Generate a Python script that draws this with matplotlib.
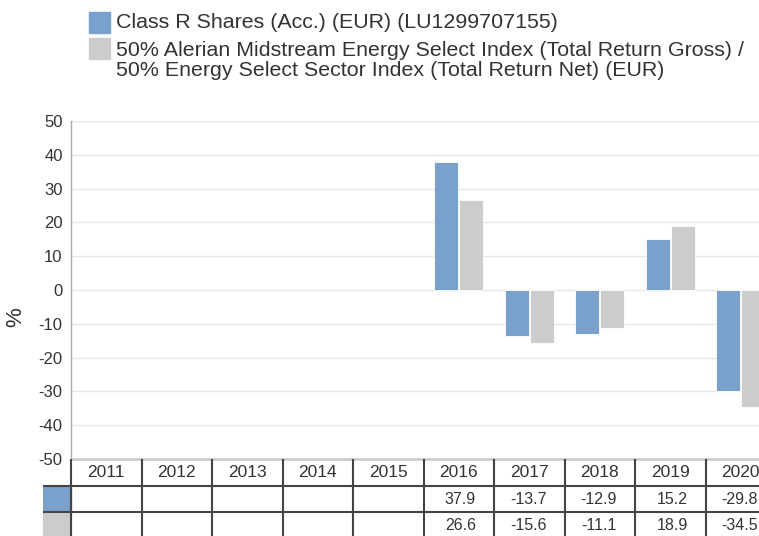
import matplotlib
matplotlib.use("Agg")
import matplotlib.pyplot as plt
from matplotlib.patches import Rectangle

plt.rcParams['font.family'] = ['Liberation Sans', 'DejaVu Sans']

years = ["2011", "2012", "2013", "2014", "2015", "2016", "2017", "2018", "2019", "2020"]
fund = [None, None, None, None, None, 37.9, -13.7, -12.9, 15.2, -29.8]
bench = [None, None, None, None, None, 26.6, -15.6, -11.1, 18.9, -34.5]
fund_label = "Class R Shares (Acc.) (EUR) (LU1299707155)"
bench_label = ("50% Alerian Midstream Energy Select Index (Total Return Gross) /\n"
               "50% Energy Select Sector Index (Total Return Net) (EUR)")
yticks = [50, 40, 30, 20, 10, 0, -10, -20, -30, -40, -50]

BLUE = "#7aa0cc"
GREY = "#cccccc"
TXT = "#333333"
W, H = 759, 536

fig = plt.figure(figsize=(W / 100, H / 100), dpi=100)

def fx(px):
    return px / W

def fy(py):
    return 1 - py / H

ax_l, ax_r, ax_t, ax_b = 71, 776, 121, 459
ax = fig.add_axes([fx(ax_l), fy(ax_b), fx(ax_r - ax_l), (ax_b - ax_t) / H])
n = len(years)
bw = 0.34
for i in range(n):
    if fund[i] is not None:
        ax.bar(i - bw / 2 - 0.01, fund[i], width=bw, color=BLUE, edgecolor="white", linewidth=0.6, zorder=3)
    if bench[i] is not None:
        ax.bar(i + bw / 2 + 0.01, bench[i], width=bw, color=GREY, edgecolor="white", linewidth=0.6, zorder=3)
ax.set_xlim(-0.5, n - 0.5)
ax.set_ylim(-50, 50)
ax.set_yticks(yticks)
ax.set_yticklabels([str(v) for v in yticks])
ax.tick_params(axis='y', length=0, pad=6, labelsize=12, labelcolor=TXT)
ax.set_xticks([])
ax.grid(axis='y', color="#e6e6e6", linewidth=1, zorder=0)
for s in ["top", "right"]:
    ax.spines[s].set_visible(False)
ax.spines["left"].set_color("#aaaaaa")
ax.spines["left"].set_linewidth(1)
ax.spines["bottom"].set_color("#cccccc")
ax.spines["bottom"].set_linewidth(2)
fig.text(fx(16), fy(317), "%", rotation=90, ha="center", va="center", fontsize=16, color=TXT)

# table
col_w = (ax_r - ax_l) / n
sw_l = 43
row_y = [459, 485.5, 512, 538.5]
tax = fig.add_axes([fx(sw_l), fy(row_y[-1]), fx(ax_r - sw_l), (row_y[-1] - row_y[0]) / H])
x0 = -0.5 - (ax_l - sw_l) / col_w
tax.set_xlim(x0, n - 0.5)
tax.set_ylim(3, 0)
tax.axis("off")
LINE = "#444444"
tax.add_patch(Rectangle((x0, 1), -0.5 - x0, 1, color=BLUE, zorder=1))
tax.add_patch(Rectangle((x0, 2), -0.5 - x0, 1, color=GREY, zorder=1))
for r in [1, 2]:
    tax.plot([x0, n - 0.5], [r, r], color=LINE, lw=1.5, zorder=2, solid_capstyle="butt")
for c in range(n + 1):
    tax.plot([c - 0.5, c - 0.5], [0, 3], color=LINE, lw=1.5, zorder=2, solid_capstyle="butt")
for i, y in enumerate(years):
    tax.text(i, 0.52, y, ha="center", va="center", fontsize=12.5, color=TXT)
    if fund[i] is not None:
        tax.text(i + 0.5 - 0.255, 1.52, f"{fund[i]:.1f}", ha="right", va="center", fontsize=11.5, color=TXT)
    if bench[i] is not None:
        tax.text(i + 0.5 - 0.255, 2.52, f"{bench[i]:.1f}", ha="right", va="center", fontsize=11.5, color=TXT)

# legend
fig.patches.append(Rectangle((fx(89), fy(33)), fx(21), 21 / H, transform=fig.transFigure, color=BLUE))
fig.patches.append(Rectangle((fx(89), fy(59)), fx(21), 21 / H, transform=fig.transFigure, color=GREY))
fig.text(fx(116), fy(23), fund_label, ha="left", va="center", fontsize=15.4, color=TXT)
for k, line in enumerate(bench_label.split("\n")):
    fig.text(fx(116), fy(50 + 20 * k), line, ha="left", va="center", fontsize=15.4, color=TXT)

fig.savefig("out.png", dpi=100)
